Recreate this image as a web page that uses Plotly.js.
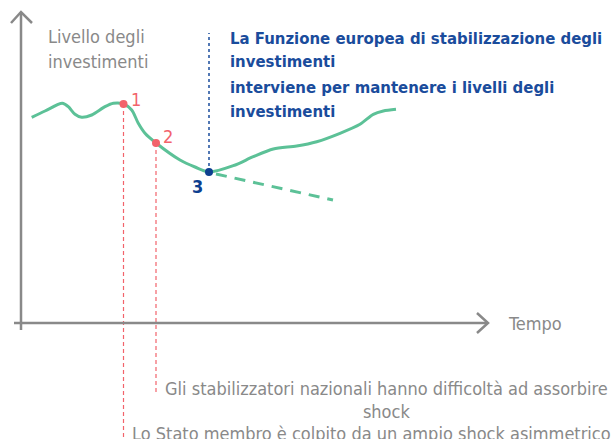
<!DOCTYPE html>
<html><head><meta charset="utf-8">
<script src="https://cdn.plot.ly/plotly-3.0.1.min.js"></script>
<style>html,body{margin:0;padding:0;background:#fff}#chart{width:612px;height:439px}</style>
</head><body><div id="chart"></div>
<script>
// Conceptual chart: time on x, investment level on y (arbitrary units)
const timeValues  = [10.7, 24, 41.3, 47.3, 54, 60.7, 70.7, 84, 92.3, 102.5, 110.7, 117.3, 124, 135, 159, 174, 188, 212.3, 232.3, 252.3, 275.7, 295.7, 319, 339, 352.3, 362.3, 375];
const levelValues = [205.7, 212, 219.7, 216.3, 208.7, 205.7, 208, 216.3, 219.7, 219, 213, 199.7, 189.7, 180, 163, 156, 151, 157.3, 166.3, 174, 177, 181.3, 189.7, 198.7, 208.7, 212, 213.7];
// Projection without the stabilisation function
const projTime  = [195, 262, 312];
const projLevel = [149, 134.5, 123];
// Key events
const eventTime   = [102.5, 135, 188];
const eventLevel  = [219, 180, 151];
const eventLabels = ['1', '2', '3'];
const eventColors = ['#f2636b', '#f2636b', '#0d3f8f'];
// Axis labels and captions
const yLabel = ['Livello degli', 'investimenti'];
const xLabel = 'Tempo';
const blueLines = ['La Funzione europea di stabilizzazione degli', 'investimenti', 'interviene per mantenere i livelli degli', 'investimenti'];
const captionA = 'Gli stabilizzatori nazionali hanno difficoltà ad assorbire<br>shock';
const captionB = 'Lo Stato membro è colpito da un ampio shock asimmetrico';

const GREEN = '#5cc197', GRAY = '#898989', BLUE = '#1a4c9c', RED = '#f2636b';
const NARROW = 'DejaVu Sans Condensed, sans-serif';

const traces = [
  {x: projTime, y: projLevel, mode: 'lines', line: {color: GREEN, width: 3, dash: '11px,8px'}, hoverinfo: 'skip'},
  {x: timeValues, y: levelValues, mode: 'lines', line: {color: GREEN, width: 3, shape: 'spline', smoothing: 0.8}, hoverinfo: 'skip'},
  {x: eventTime, y: eventLevel, mode: 'markers', marker: {color: eventColors, size: 8}, hoverinfo: 'skip'}
];

const shapes = [
  // axes
  {type: 'line', xref: 'x', yref: 'y', x0: 0, x1: 0, y0: -7, y1: 311, line: {color: GRAY, width: 2.5}},
  {type: 'line', xref: 'x', yref: 'y', x0: -7, x1: 467, y0: 0, y1: 0, line: {color: GRAY, width: 2.5}},
  {type: 'path', xref: 'x', yref: 'y', path: 'M -10 300 L 0 311 L 11 300', line: {color: GRAY, width: 2.5}},
  {type: 'path', xref: 'x', yref: 'y', path: 'M 456 10 L 467 0 L 456 -10', line: {color: GRAY, width: 2.5}},
  // guides
  {type: 'line', xref: 'x', yref: 'y', x0: eventTime[0], x1: eventTime[0], y0: eventLevel[0], y1: -120, line: {color: RED, width: 1.2, dash: '4px,3px'}, layer: 'below'},
  {type: 'line', xref: 'x', yref: 'y', x0: eventTime[1], x1: eventTime[1], y0: eventLevel[1], y1: -70, line: {color: RED, width: 1.2, dash: '4px,3px'}, layer: 'below'},
  {type: 'line', xref: 'x', yref: 'y', x0: eventTime[2], x1: eventTime[2], y0: eventLevel[2], y1: 290, line: {color: BLUE, width: 1.5, dash: '3px,3px'}, layer: 'below'}
];

const annotations = [];
const labelOffsets = [[12, 5], [12, 7], [-12, -14]];
eventLabels.forEach((t, i) => annotations.push({
  x: eventTime[i] + labelOffsets[i][0], y: eventLevel[i] + labelOffsets[i][1], text: t, showarrow: false,
  font: {family: NARROW, size: 18, color: eventColors[i], weight: i === 2 ? 'bold' : 'normal'}
}));
yLabel.forEach((t, i) => annotations.push({x: 24.7, y: 287 - i * 25, text: t, showarrow: false, xanchor: 'left', yanchor: 'middle', font: {family: NARROW, size: 18, color: GRAY}}));
annotations.push({x: 485, y: 0, text: xLabel, showarrow: false, xanchor: 'left', yanchor: 'middle', font: {family: NARROW, size: 18, color: GRAY}});
const blueY = [284.5, 261.5, 235.5, 211.5];
blueLines.forEach((t, i) => annotations.push({x: 207, y: blueY[i], text: t, showarrow: false, xanchor: 'left', yanchor: 'middle', font: {family: NARROW, size: 16.6, color: BLUE, weight: 'bold'}}));
annotations.push({x: 365, y: -77, text: captionA, showarrow: false, xanchor: 'center', yanchor: 'middle', align: 'center', font: {family: NARROW, size: 18, color: GRAY}});
annotations.push({x: 350, y: -110, text: captionB, showarrow: false, xanchor: 'center', yanchor: 'middle', font: {family: NARROW, size: 18, color: GRAY}});

const layout = {
  width: 612, height: 439, margin: {l: 0, r: 0, t: 0, b: 0},
  paper_bgcolor: '#fff', plot_bgcolor: '#fff', showlegend: false,
  xaxis: {range: [-21, 591], visible: false, fixedrange: true},
  yaxis: {range: [-116, 323], visible: false, fixedrange: true},
  shapes, annotations
};
Plotly.newPlot('chart', traces, layout, {staticPlot: true, displayModeBar: false});
</script></body></html>
